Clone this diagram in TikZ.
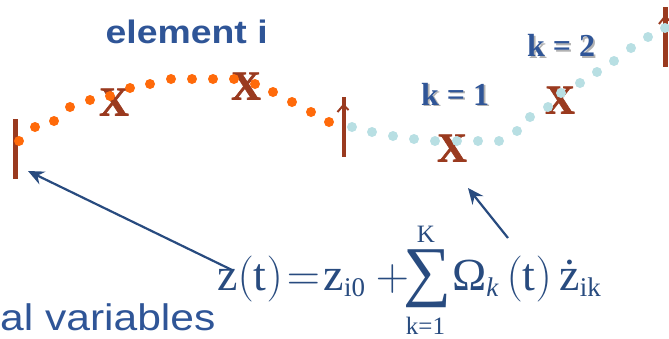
\documentclass[tikz,border=0pt]{standalone}
\usepackage{fix-cm}
\usepackage{fontspec}
\setmainfont{Liberation Serif}
\newfontfamily\widesans[FakeStretch=1.15]{Liberation Sans}
\newfontfamily\markfont[FakeBold=1.6]{Liberation Serif Bold}
\usepackage{graphicx}
\usetikzlibrary{arrows.meta}
\definecolor{navy}{HTML}{284B7F}
\definecolor{heading}{HTML}{2F5597}
\definecolor{brick}{HTML}{9A3A1F}
\definecolor{nodeA}{HTML}{FF6A0A}
\definecolor{nodeB}{HTML}{B8DFE3}
\DeclareMathSizes{46}{46}{27}{25}
\newcommand{\shadowed}[1]{\makebox[0pt][l]{\hspace{1.6pt}\raisebox{-1.6pt}{\color{black!30}#1}}#1}

\begin{document}
\begin{tikzpicture}[x=1pt,y=-1pt,
  bar/.style={fill=brick,inner sep=0pt,minimum width=4.8pt,minimum height=60pt},
  xmark/.style={text=brick,inner sep=0pt,font=\markfont\fontsize{41}{41}\selectfont},
  klab/.style={text=heading,inner sep=0pt,anchor=base west,font=\fontsize{32}{34}\selectfont\bfseries},
  label/.style={text=heading,inner sep=0pt,anchor=base west},
  eqn/.style={text=navy,inner sep=0pt,anchor=base west,font=\fontsize{46}{50}\selectfont},
  lim/.style={text=navy,inner sep=0pt,anchor=base,font=\fontsize{25}{25}\selectfont},
  ptr/.style={-{Stealth[length=16pt,width=14pt,inset=5.5pt]},line width=2.2pt,navy},
  flag/.style={brick,line width=2pt}]
  \useasboundingbox (0,0) rectangle (669,338);
  \node[bar] (barL) at (15.5,149) {};
  \node[bar] (barM) at (344,127) {};
  \node[bar] (barR) at (665.5,37) {};
  \draw[flag] (337.5,112) -- (343.5,105) -- (348.5,110);
  \draw[flag] (659,24) -- (665,16.5) -- (670,21);
  \node[xmark] (xa) at (114,102) {X};
  \node[xmark] (xb) at (246,86) {X};
  \node[xmark] (xk1) at (452,148) {X};
  \node[xmark] (xk2) at (560,100) {X};
  \foreach \p in {(19,141),(35,127),(54,121),(70,107),(90,100),(110,96),(130,88),(150,84),(171,79),
    (192,79),(213,79),(234,79),(255,84),(273,92),(292,102),(311,112),(329,122)}
    \fill[nodeA] \p circle (5pt);
  \foreach \p in {(352,127),(372,132),(393,136),(414,139),(435,141),(457,141),(478,141),(499,141),(517,131),
    (530,117),(548,107),(561,93),(580,83),(597,72),(614,61),(631,48),(648,37),(665,28)}
    \fill[nodeB] \p circle (5pt);
  \node[label,font=\widesans\bfseries\fontsize{32.5}{36}\selectfont] (elem) at (105.5,43) {element i};
  \node[klab] (k1) at (421,105) {\shadowed{k = 1}};
  \node[klab] (k2) at (527,56.5) {\shadowed{k = 2}};
  \node[label,font=\widesans\fontsize{37}{40}\selectfont] (nodal) at (0,330) {al variables};
  \node[eqn] (eqL) at (217,290) {$\mathrm{z(t)}\mkern1.5mu{=}\mkern1.5mu\mathrm{z}_{\mathrm{i0}}\mkern4mu{+}$};
  \node[text=navy,inner sep=0pt] (sig) at (427.5,279) {\resizebox*{48pt}{58pt}{∑}};
  \node[lim] (supK) at (426,242) {K};
  \node[lim] (subK) at (425.5,334) {k=1};
  \node[eqn] (eqR) at (452,290) {$\textrm{Ω}_{\mathit{k}}\,(\mathrm{t})\,\textrm{ż}_{\mathrm{ik}}$};
  \coordinate (tailL) at (232,270);
  \coordinate (tipL) at (28,171);
  \coordinate (tailK) at (508,238);
  \coordinate (tipK) at (468,188);
  \draw[ptr] (tailL) -- (tipL);
  \draw[ptr] (tailK) -- (tipK);
\end{tikzpicture}
\end{document}
